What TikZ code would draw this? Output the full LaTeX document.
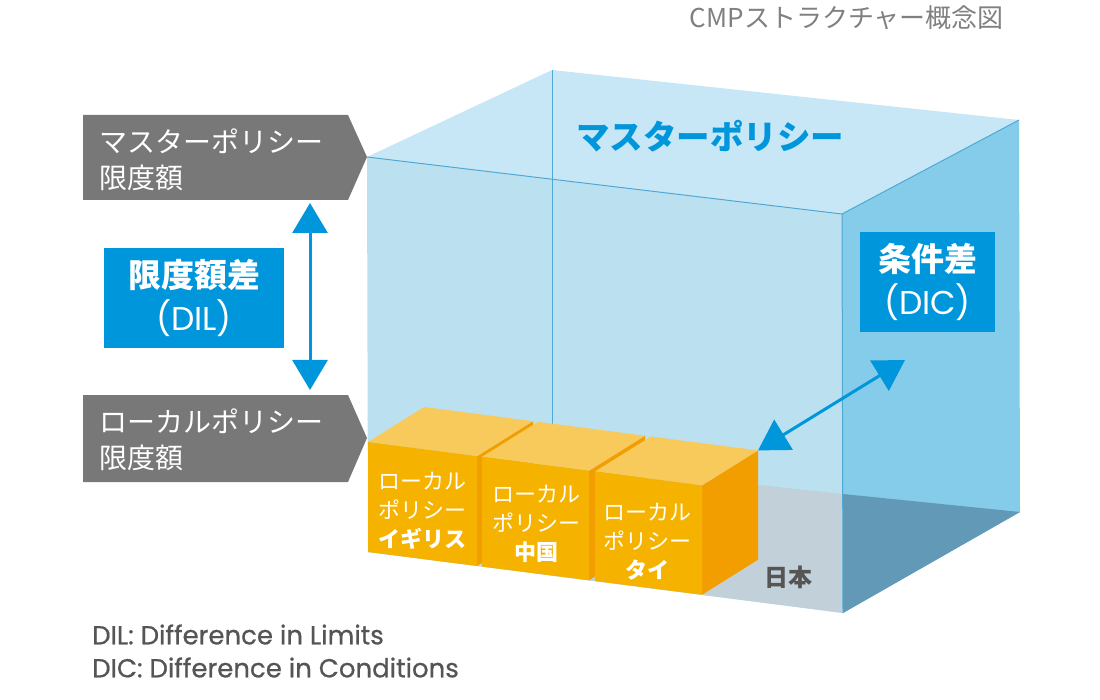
\documentclass[tikz,border=0pt]{standalone}
\usepackage{fontspec}
\setmainfont{Noto Sans CJK JP}
\newfontfamily\latinfont{Poppins}
\newfontfamily\legendfont[FakeBold=0.7]{Poppins}
\usepackage{tikz}
\usetikzlibrary{arrows.meta,positioning,calc}
\usepackage{xcolor}

\definecolor{cmpblue}{RGB}{0,150,219}
\definecolor{cmpgray}{RGB}{120,120,120}
\definecolor{titlegray}{RGB}{128,128,128}
\definecolor{textgray}{RGB}{85,85,85}
\definecolor{topface}{RGB}{199,231,247}
\definecolor{frontface}{RGB}{187,225,240}
\definecolor{sideface}{RGB}{132,204,233}
\definecolor{floorlight}{RGB}{194,208,217}
\definecolor{floordark}{RGB}{98,153,182}
\definecolor{edgeblue}{RGB}{80,168,212}
\definecolor{boxfront}{RGB}{245,179,0}
\definecolor{boxtop}{RGB}{248,202,92}
\definecolor{boxside}{RGB}{242,158,0}

\tikzset{
  graylabel/.style={anchor=west, align=left, text=white, inner sep=0pt,
    font=\fontsize{28}{36}\selectfont},
  bluebox/.style={fill=cmpblue, text=white, align=center, inner sep=0pt,
    font=\fontsize{33}{43}\selectfont},
  boxlabel/.style={text=white, align=center, inner sep=0pt,
    font=\fontsize{22}{29}\selectfont},
  dimarrow/.style={cmpblue, line width=3pt,
    {Triangle[length=30pt,width=35pt]}-{Triangle[length=30pt,width=35pt]}},
}

\begin{document}
\begin{tikzpicture}[x=1pt, y=-1pt]
\useasboundingbox (0,0) rectangle (1100,700);

% title
\node[anchor=east, text=titlegray, font=\fontsize{26}{30}\selectfont, inner sep=0pt]
  (title) at (1004,18) {CMPストラクチャー概念図};

% the cube
\coordinate (ftl) at (367,157);
\coordinate (ftr) at (842,214);
\coordinate (fbr) at (843,613);
\coordinate (fbl) at (368,552);
\coordinate (btl) at (552,70);
\coordinate (btr) at (1019,120);
\coordinate (bbr) at (1020,512);
\coordinate (bbl) at (552,463);
\coordinate (bbm) at (843,494);

\fill[frontface] (ftl) -- (ftr) -- (fbr) -- (fbl) -- cycle;
\fill[topface] (ftl) -- (btl) -- (btr) -- (ftr) -- cycle;
\fill[sideface] (ftr) -- (btr) -- (bbr) -- (fbr) -- cycle;
\fill[floorlight] (fbl) -- (bbl) -- (bbm) -- (fbr) -- cycle;
\fill[floordark] (bbm) -- (bbr) -- (fbr) -- cycle;
\draw[edgeblue, line width=0.8pt] (btl) -- (bbl);
\draw[edgeblue, line width=1pt] (ftl) -- (ftr) -- (btr);
\draw[edgeblue, line width=1pt] (ftr) -- (fbr);

\node[text=cmpblue, font=\fontsize{33.5}{36}\selectfont\bfseries, inner sep=0pt]
  (masterTitle) at (710,136) {マスターポリシー};

% local policy boxes
\foreach \a/\b/\name in {368/477/uk, 482/589/cn, 595/702/th} {
  \fill[boxside] (\b,{442+0.13*(\b-368)}) -- ++(56,-35)
    -- ({\b+56},{517+0.128*(\b-368)}) -- (\b,{552+0.128*(\b-368)}) -- cycle;
  \fill[boxtop] (\a,{442+0.13*(\a-368)}) -- ++(56,-35)
    -- ({\b+56},{407+0.13*(\b-368)}) -- (\b,{442+0.13*(\b-368)}) -- cycle;
  \fill[boxfront] (\a,{442+0.13*(\a-368)}) -- (\b,{442+0.13*(\b-368)})
    -- (\b,{552+0.128*(\b-368)}) -- (\a,{552+0.128*(\a-368)}) -- cycle;
  \coordinate (\name-tip) at ({\b+56},{407+0.13*(\b-368)});
}

\node[boxlabel] (ukLabel) at (422,511) {ローカル\\ポリシー\\\textbf{イギリス}};
\node[boxlabel] (cnLabel) at (536,524) {ローカル\\ポリシー\\\textbf{中国}};
\node[boxlabel] (thLabel) at (647,542) {ローカル\\ポリシー\\\textbf{タイ}};
\node[text=textgray, font=\fontsize{24}{28}\selectfont\bfseries, inner sep=0pt]
  (japan) at (788,577) {日本};

% limit labels on the left
\fill[cmpgray] (83,115) -- (348,115) -- (367,157) -- (348,200) -- (83,200) -- cycle;
\fill[cmpgray] (83,395) -- (348,395) -- (367,438) -- (348,482) -- (83,482) -- cycle;
\node[graylabel] (masterLimit) at (99,160) {マスターポリシー\\限度額};
\node[graylabel] (localLimit) at (99,440) {ローカルポリシー\\限度額};

% DIL
\node[bluebox, minimum width=180pt, minimum height=100pt] (dil) at (194,298)
  {\textbf{限度額差}\\{\latinfont (DIL)}};
\coordinate (dilTop) at (310,203);
\coordinate (dilBot) at (310,390);
\draw[dimarrow] (dilTop) -- (dilBot);

% DIC
\node[bluebox, minimum width=135pt, minimum height=100pt] (dic) at (927.5,282)
  {\textbf{条件差}\\{\latinfont (DIC)}};
\coordinate (dicEnd) at (905,360);
\draw[dimarrow] (th-tip) -- (dicEnd);

% legend
\node[anchor=west, text=textgray, align=left, inner sep=0pt,
  font=\legendfont\fontsize{26}{33}\selectfont] (legend) at (92,651)
  {DIL: Difference in Limits\\DIC: Difference in Conditions};
\end{tikzpicture}
\end{document}
